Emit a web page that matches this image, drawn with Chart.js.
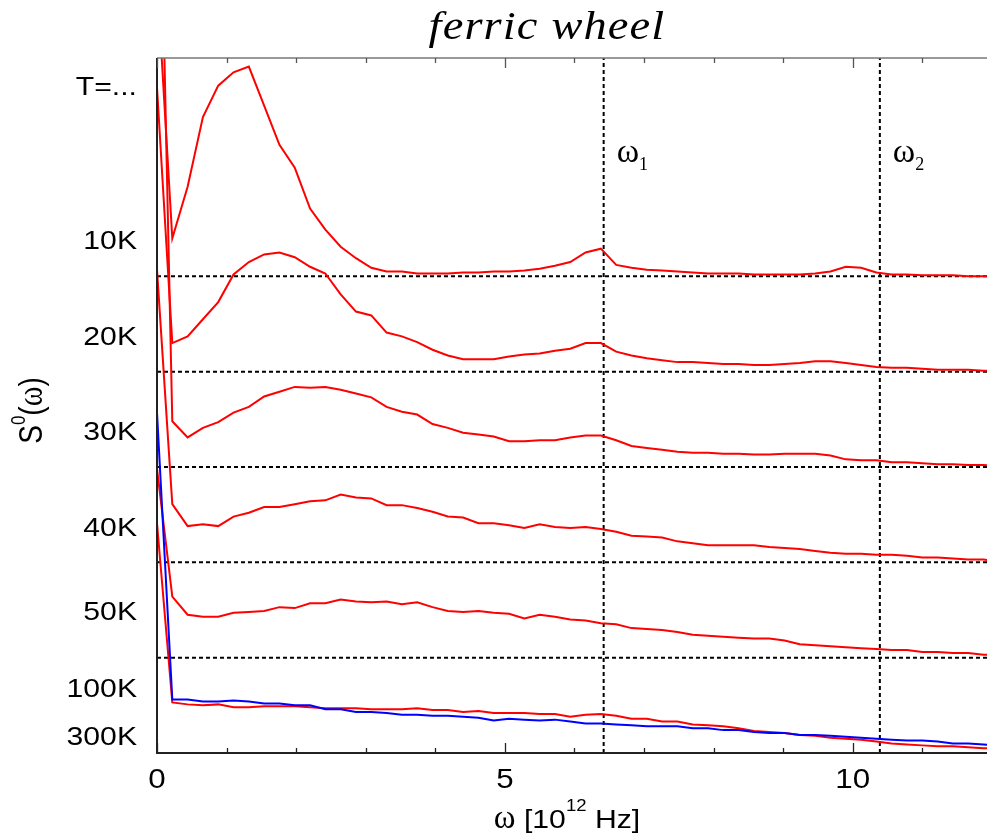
<!DOCTYPE html>
<html>
<head>
<meta charset="utf-8">
<title>ferric wheel</title>
<script src="https://cdn.jsdelivr.net/npm/chart.js@4.4.1/dist/chart.umd.min.js"></script>
<style>
  html, body { margin: 0; padding: 0; background: #fff; }
  canvas { display: block; }
</style>
</head>
<body>
<canvas id="chart" width="987" height="837"></canvas>
<script>
/* ── ferric wheel: S0(omega) spectra, offset by temperature ─────────── */

// ── Data ───────────────────────────────────────────────────────────────
// omega in 10^12 Hz
const omega = [
  0.00, 0.22, 0.44, 0.66, 0.88, 1.10, 1.32, 1.54, 1.76, 1.98,
  2.20, 2.42, 2.64, 2.86, 3.08, 3.30, 3.52, 3.74, 3.96, 4.18,
  4.40, 4.62, 4.84, 5.06, 5.28, 5.50, 5.72, 5.94, 6.16, 6.38,
  6.60, 6.82, 7.04, 7.26, 7.48, 7.70, 7.92, 8.14, 8.36, 8.58,
  8.80, 9.02, 9.24, 9.46, 9.68, 9.90, 10.12, 10.34, 10.56, 10.78,
  11.00, 11.22, 11.44, 11.66, 11.88, 12.10,
];

// spectra, each relative to its own (dashed) baseline
const s10K = [
  3.13, 0.40, 0.94, 1.67, 2.00, 2.14, 2.20, 1.79, 1.38, 1.14,
  0.71, 0.49, 0.31, 0.19, 0.09, 0.05, 0.05, 0.03, 0.03, 0.03,
  0.04, 0.04, 0.05, 0.05, 0.06, 0.08, 0.11, 0.15, 0.25, 0.29,
  0.12, 0.09, 0.07, 0.06, 0.05, 0.04, 0.03, 0.03, 0.03, 0.02,
  0.02, 0.02, 0.02, 0.03, 0.05, 0.10, 0.09, 0.04, 0.02, 0.02,
  0.01, 0.01, 0.01, 0.00, 0.00, 0.00,
];
const s20K = [
  2.98, 0.30, 0.37, 0.55, 0.73, 1.02, 1.15, 1.23, 1.25, 1.20,
  1.10, 1.03, 0.81, 0.63, 0.59, 0.41, 0.37, 0.31, 0.23, 0.17,
  0.13, 0.13, 0.13, 0.16, 0.18, 0.19, 0.22, 0.24, 0.30, 0.30,
  0.21, 0.17, 0.14, 0.12, 0.10, 0.10, 0.09, 0.08, 0.08, 0.07,
  0.07, 0.08, 0.09, 0.11, 0.11, 0.09, 0.07, 0.05, 0.04, 0.04,
  0.03, 0.02, 0.02, 0.02, 0.01, 0.01,
];
const s30K = [
  7.89, 0.48, 0.31, 0.41, 0.47, 0.57, 0.63, 0.74, 0.79, 0.84,
  0.83, 0.84, 0.81, 0.77, 0.73, 0.63, 0.58, 0.55, 0.45, 0.41,
  0.36, 0.34, 0.32, 0.27, 0.27, 0.28, 0.28, 0.31, 0.33, 0.33,
  0.28, 0.22, 0.20, 0.18, 0.16, 0.15, 0.15, 0.14, 0.14, 0.13,
  0.13, 0.14, 0.14, 0.14, 0.12, 0.08, 0.07, 0.07, 0.05, 0.05,
  0.04, 0.03, 0.03, 0.02, 0.02, 0.01,
];
const s40K = [
  3.07, 0.61, 0.38, 0.40, 0.38, 0.48, 0.52, 0.58, 0.58, 0.61,
  0.64, 0.65, 0.71, 0.68, 0.67, 0.60, 0.60, 0.57, 0.53, 0.48,
  0.47, 0.41, 0.41, 0.39, 0.36, 0.40, 0.37, 0.36, 0.37, 0.35,
  0.32, 0.28, 0.27, 0.26, 0.22, 0.20, 0.18, 0.18, 0.18, 0.18,
  0.16, 0.15, 0.14, 0.12, 0.10, 0.09, 0.09, 0.08, 0.08, 0.07,
  0.05, 0.05, 0.04, 0.03, 0.03, 0.01,
];
const s50K = [
  1.98, 0.64, 0.45, 0.43, 0.43, 0.47, 0.48, 0.49, 0.53, 0.52,
  0.57, 0.57, 0.61, 0.59, 0.58, 0.59, 0.56, 0.58, 0.53, 0.49,
  0.48, 0.49, 0.47, 0.46, 0.41, 0.45, 0.43, 0.40, 0.39, 0.36,
  0.35, 0.31, 0.30, 0.29, 0.27, 0.24, 0.23, 0.22, 0.21, 0.20,
  0.20, 0.18, 0.14, 0.13, 0.12, 0.11, 0.10, 0.09, 0.08, 0.08,
  0.06, 0.06, 0.05, 0.05, 0.03, 0.03,
];
const s100K = [
  2.41, 0.53, 0.51, 0.50, 0.51, 0.48, 0.48, 0.49, 0.49, 0.49,
  0.48, 0.47, 0.47, 0.47, 0.46, 0.46, 0.46, 0.47, 0.45, 0.45,
  0.43, 0.44, 0.42, 0.42, 0.42, 0.41, 0.41, 0.38, 0.40, 0.41,
  0.39, 0.36, 0.36, 0.33, 0.33, 0.30, 0.29, 0.28, 0.26, 0.23,
  0.22, 0.21, 0.19, 0.18, 0.16, 0.15, 0.14, 0.12, 0.10, 0.09,
  0.08, 0.07, 0.07, 0.06, 0.05, 0.05,
];
const s300K = [
  3.57, 0.56, 0.56, 0.54, 0.54, 0.55, 0.54, 0.52, 0.52, 0.50,
  0.50, 0.46, 0.46, 0.43, 0.43, 0.42, 0.40, 0.40, 0.39, 0.39,
  0.38, 0.37, 0.34, 0.36, 0.35, 0.34, 0.35, 0.33, 0.31, 0.31,
  0.30, 0.29, 0.28, 0.28, 0.28, 0.26, 0.26, 0.24, 0.24, 0.22,
  0.21, 0.21, 0.19, 0.19, 0.18, 0.17, 0.16, 0.15, 0.14, 0.13,
  0.13, 0.12, 0.10, 0.10, 0.09, 0.08,
];

const curves  = [s10K, s20K, s30K, s40K, s50K, s100K, s300K];
const offsets = [5, 4, 3, 2, 1, 0, 0];
const colors  = ['#ff0000', '#ff0000', '#ff0000', '#ff0000', '#ff0000', '#ff0000', '#0000ff'];

const baselines = [5, 4, 3, 2, 1];           // dashed zero lines
const markers   = [6.42, 10.39];             // omega_1, omega_2
const markerSub = ['1', '2'];

// temperature labels on the left and where they sit on the offset axis
const tempLabels = ['T=...', '10K', '20K', '30K', '40K', '50K', '100K', '300K'];
const tempLabelY = [7.0, 5.39, 4.38, 3.38, 2.38, 1.49, 0.69, 0.18];

const xLabelTicks = [0, 5, 10];

const X_MIN = 0, X_MAX = 11.93;
const Y_MIN = 0, Y_MAX = 7.29;

// ── Text helpers ───────────────────────────────────────────────────────
const SX    = 1.16;   // the original figure is stretched a bit sideways
const SANS  = '"Liberation Sans", Arial, sans-serif';
const SERIF = '"Liberation Serif", "Times New Roman", serif';

// runs: [{ text, font, dy, sx }]
function drawRuns(ctx, runs, x, y, align, sx) {
  let w = 0;
  runs.forEach((r) => {
    ctx.font = r.font;
    w += ctx.measureText(r.text).width * (r.sx ?? sx);
  });
  let cx = align === 'center' ? x - w / 2 : align === 'right' ? x - w : x;
  runs.forEach((r) => {
    const s = r.sx ?? sx;
    ctx.save();
    ctx.translate(cx, y + (r.dy || 0));
    ctx.scale(s, 1);
    ctx.font = r.font;
    ctx.textAlign = 'left';
    ctx.textBaseline = 'alphabetic';
    ctx.fillText(r.text, 0, 0);
    ctx.restore();
    ctx.font = r.font;
    cx += ctx.measureText(r.text).width * s;
  });
}

// ── Axes, ticks and all the text ───────────────────────────────────────
const framePlugin = {
  id: 'frame',
  afterDraw(chart) {
    const { ctx, chartArea: a, scales } = chart;
    const xs = scales.x, ys = scales.y;
    ctx.save();

    // frame
    ctx.lineCap = 'butt';
    ctx.strokeStyle = '#777';
    ctx.lineWidth = 1.5;
    ctx.beginPath();
    ctx.moveTo(a.left, a.top);
    ctx.lineTo(a.right, a.top);
    ctx.stroke();

    ctx.strokeStyle = '#222';
    ctx.lineWidth = 2;
    ctx.beginPath();
    ctx.moveTo(a.left, a.top);
    ctx.lineTo(a.left, a.bottom);
    ctx.lineTo(a.right, a.bottom);
    ctx.stroke();

    // inward ticks, top and bottom
    xs.ticks.filter((t) => Number.isInteger(t.value)).forEach((t) => {
      const px = Math.round(xs.getPixelForValue(t.value)) + 0.5;
      const len = t.value % 5 === 0 ? 10 : 5;
      ctx.lineWidth = 1.3;
      ctx.strokeStyle = '#222';
      ctx.beginPath();
      ctx.moveTo(px, a.bottom);
      ctx.lineTo(px, a.bottom - len);
      ctx.stroke();
      ctx.strokeStyle = '#555';
      ctx.beginPath();
      ctx.moveTo(px, a.top);
      ctx.lineTo(px, a.top + len);
      ctx.stroke();
    });

    ctx.fillStyle = '#000';

    // x tick labels
    xLabelTicks.forEach((v) => {
      drawRuns(ctx, [{ text: String(v), font: `27px ${SANS}` }],
        xs.getPixelForValue(v), a.bottom + 35, 'center', SX);
    });

    // temperature labels
    tempLabels.forEach((lab, i) => {
      drawRuns(ctx, [{ text: lab, font: `26px ${SANS}` }],
        a.left - 20, ys.getPixelForValue(tempLabelY[i]) + 9.5, 'right', SX);
    });

    // omega markers
    markers.forEach((m, i) => {
      drawRuns(ctx, [
        { text: 'ω', font: `34px ${SERIF}`, sx: 1 },
        { text: markerSub[i], font: `18px ${SERIF}`, dy: 8, sx: 1 },
      ], xs.getPixelForValue(m) + 13, a.top + 104, 'left', 1);
    });

    // x axis title
    drawRuns(ctx, [
      { text: 'ω', font: `33px ${SERIF}`, sx: 1 },
      { text: ' [10', font: `26px ${SANS}` },
      { text: '12', font: `16px ${SANS}`, dy: -17 },
      { text: ' Hz]', font: `26px ${SANS}` },
    ], (a.left + a.right) / 2 - 5, a.bottom + 75, 'center', SX);

    // y axis title (rotated)
    ctx.save();
    ctx.translate(42, (a.top + a.bottom) / 2 + 5);
    ctx.rotate(-Math.PI / 2);
    ctx.scale(1, SX);
    drawRuns(ctx, [
      { text: 'S', font: `28px ${SANS}` },
      { text: '0', font: `17px ${SANS}`, dy: -15 },
      { text: '(', font: `28px ${SANS}` },
      { text: 'ω', font: `30px ${SERIF}` },
      { text: ')', font: `28px ${SANS}` },
    ], 0, 0, 'center', 1);
    ctx.restore();

    // title
    ctx.save();
    ctx.letterSpacing = '1px';
    drawRuns(ctx, [{ text: 'ferric wheel', font: `italic 40px ${SERIF}` }],
      547, 39, 'center', SX);
    ctx.restore();

    ctx.restore();
  },
};

// ── Datasets ───────────────────────────────────────────────────────────
const guide = {
  borderColor: '#000',
  borderWidth: 2,
  borderDash: [4, 3],
  pointRadius: 0,
  order: 2,
  clip: 0,
};

const datasets = [
  ...curves.map((vals, c) => ({
    data: omega.map((x, i) => ({ x, y: offsets[c] + vals[i] })),
    borderColor: colors[c],
    borderWidth: 2,
    pointRadius: 0,
    order: c === 6 ? 0 : 1,
    clip: 0,
  })),
  ...baselines.map((b) => ({ ...guide, data: [{ x: X_MIN, y: b }, { x: X_MAX, y: b }] })),
  ...markers.map((m) => ({ ...guide, data: [{ x: m, y: Y_MIN }, { x: m, y: Y_MAX }] })),
];

new Chart(document.getElementById('chart'), {
  type: 'line',
  data: { datasets },
  options: {
    responsive: false,
    animation: false,
    devicePixelRatio: 1,
    layout: { padding: { left: 157, top: 58, right: 0, bottom: 84 } },
    elements: { line: { tension: 0 } },
    plugins: {
      legend: { display: false },
      tooltip: { enabled: false },
    },
    scales: {
      x: { type: 'linear', min: X_MIN, max: X_MAX, display: false, ticks: { stepSize: 1 } },
      y: { type: 'linear', min: Y_MIN, max: Y_MAX, display: false },
    },
  },
  plugins: [framePlugin],
});
</script>
</body>
</html>
